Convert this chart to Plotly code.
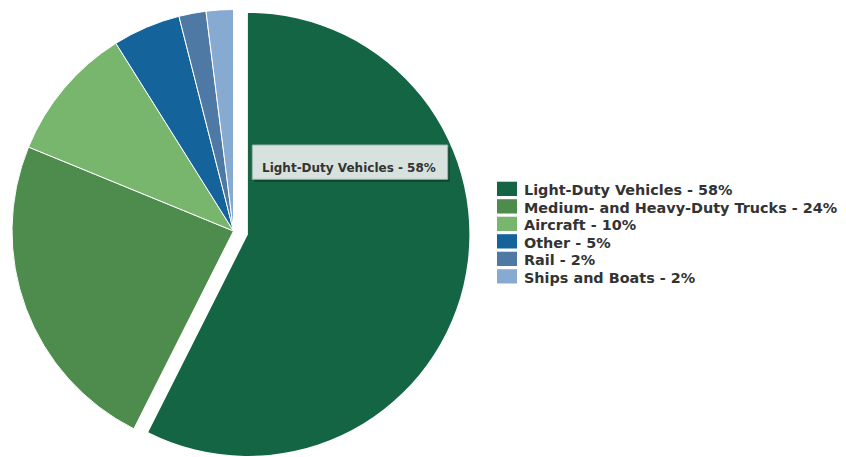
import math
import plotly.graph_objects as go

# Transportation sector shares
labels = ["Light-Duty Vehicles", "Medium- and Heavy-Duty Trucks", "Aircraft",
          "Other", "Rail", "Ships and Boats"]
shares = [58, 24, 10, 5, 2, 2]
colors = ["#136544", "#4d8c4d", "#78b66e", "#15639b", "#4f79a5", "#87aad2"]
highlight = 0  # index of the exploded slice

W, H = 846, 457
CX, CY, R = 233.5, 231.0, 221.5   # pie centre and radius in pixels
PULL_PX = 14.8                    # explode distance of the highlighted slice
FONT = "DejaVu Sans"
TEXT_COLOR = "#333333"
CLEAR = "rgba(0,0,0,0)"


def fx(x):
    return x / W


def fy(y):
    return 1 - y / H


def pie_domain(cx, cy):
    return dict(x=[fx(cx - R), fx(cx + R)], y=[fy(cy + R), fy(cy - R)])


total = sum(shares)
mid = 2 * math.pi * (sum(shares[:highlight]) + shares[highlight] / 2) / total
off_x = PULL_PX * math.sin(mid)
off_y = -PULL_PX * math.cos(mid)

legend_text = [f"{lab} - {v}%" for lab, v in zip(labels, shares)]

common = dict(
    labels=labels, values=shares, sort=False, direction="clockwise",
    rotation=0, textinfo="none", showlegend=False,
    customdata=legend_text, hovertemplate="%{customdata}<extra></extra>",
)

fig = go.Figure()

# all slices except the exploded one
fig.add_trace(go.Pie(
    **common,
    domain=pie_domain(CX, CY),
    marker=dict(
        colors=[CLEAR if i == highlight else c for i, c in enumerate(colors)],
        line=dict(color="white",
                  width=[0 if i == highlight else 1 for i in range(len(colors))]),
    ),
))

# the exploded slice, shifted outward along its bisector
fig.add_trace(go.Pie(
    **common,
    domain=pie_domain(CX + off_x, CY + off_y),
    marker=dict(
        colors=[c if i == highlight else CLEAR for i, c in enumerate(colors)],
        line=dict(color="white", width=0),
    ),
))

shapes = []
annotations = []

# tooltip box for the highlighted slice
tip = dict(x0=252.3, y0=145.0, x1=447.7, y1=179.3)
shapes.append(dict(type="rect", xref="paper", yref="paper",
                   x0=fx(tip["x0"] + 2), x1=fx(tip["x1"] + 2),
                   y0=fy(tip["y1"] + 2.5), y1=fy(tip["y0"] + 2.5),
                   fillcolor="rgba(0,0,0,0.32)", line=dict(width=0)))
shapes.append(dict(type="rect", xref="paper", yref="paper",
                   x0=fx(tip["x0"]), x1=fx(tip["x1"]),
                   y0=fy(tip["y1"]), y1=fy(tip["y0"]),
                   fillcolor="#d7e2de", line=dict(color="#9fb3aa", width=1)))
annotations.append(dict(
    xref="paper", yref="paper", x=fx(349), y=fy(168),
    xanchor="center", yanchor="middle", showarrow=False,
    text=legend_text[highlight],
    font=dict(family=FONT, size=12, color=TEXT_COLOR, weight="bold"),
))

# legend
LEG_X0, LEG_X1, LEG_TOP, SW_H, ROW = 497, 517, 181.7, 14.3, 17.5
for k, (txt, col) in enumerate(zip(legend_text, colors)):
    top = LEG_TOP + ROW * k
    shapes.append(dict(type="rect", xref="paper", yref="paper",
                       x0=fx(LEG_X0), x1=fx(LEG_X1),
                       y0=fy(top + SW_H), y1=fy(top),
                       fillcolor=col, line=dict(width=0)))
    annotations.append(dict(
        xref="paper", yref="paper", x=fx(522), y=fy(top + 8.3),
        xanchor="left", yanchor="middle", showarrow=False, text=txt,
        font=dict(family=FONT, size=14.4, color=TEXT_COLOR, weight="bold"),
    ))

fig.update_layout(
    width=W, height=H,
    margin=dict(l=0, r=0, t=0, b=0),
    paper_bgcolor="white", plot_bgcolor="white",
    showlegend=False,
    shapes=shapes, annotations=annotations,
)

fig.write_html("out.html")
